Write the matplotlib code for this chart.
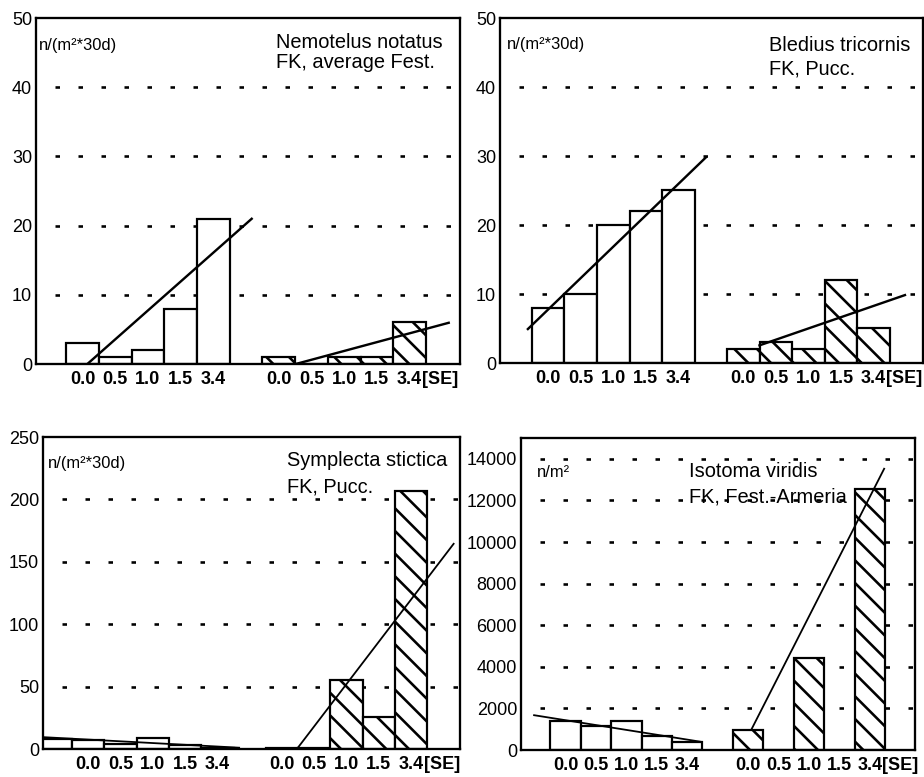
import matplotlib
matplotlib.use("Agg")
import matplotlib.pyplot as plt

DPI = 136
FIG_W, FIG_H = 924, 777


def pt(px):
    """convert pixels to points at the figure dpi"""
    return px * 72.0 / DPI


plt.rcParams['font.family'] = ['Liberation Sans', 'DejaVu Sans']
plt.rcParams['hatch.linewidth'] = pt(2.6)
plt.rcParams['hatch.color'] = 'black'
plt.rcParams['lines.scale_dashes'] = False

# ---------------- data ----------------
categories = ["0.0", "0.5", "1.0", "1.5", "3.4"]
unit_suffix = "[SE]"

# Nemotelus notatus, FK, average Fest.
nem_open = [3, 1, 2, 8, 21]
nem_hatch = [1, 0, 1, 1, 6]
nem_open_fit_x = [1.15, 6.2]
nem_open_fit_y = [0.0, 21.1]
nem_hatch_fit_x = [7.52, 12.23]
nem_hatch_fit_y = [0.0, 6.0]

# Bledius tricornis, FK, Pucc.
ble_open = [8, 10, 20, 22, 25]
ble_hatch = [2, 3, 2, 12, 5]
ble_open_fit_x = [0.35, 5.87]
ble_open_fit_y = [4.8, 29.9]
ble_hatch_fit_x = [7.46, 12.0]
ble_hatch_fit_y = [2.5, 9.9]

# Symplecta stictica, FK, Pucc. (one extra leading open bar)
sym_open = [8, 7, 4, 9, 3, 1]
sym_hatch = [1, 1, 55, 26, 207]
sym_open_fit_x = [-0.4, 5.7]
sym_open_fit_y = [9.5, 1.0]
sym_hatch_fit_x = [7.46, 12.33]
sym_hatch_fit_y = [0.0, 165.0]

# Isotoma viridis, FK, Fest.-Armeria
iso_open = [1380, 1150, 1380, 650, 380]
iso_hatch = [950, 0, 4400, 0, 12550]
iso_open_fit_x = [-0.06, 5.47]
iso_open_fit_y = [1680, 390]
iso_hatch_fit_x = [7.1, 11.48]
iso_hatch_fit_y = [966, 13560]

yticks_small = [0, 10, 20, 30, 40, 50]
yticks_sym = [0, 50, 100, 150, 200, 250]
yticks_iso = [0, 2000, 4000, 6000, 8000, 10000, 12000, 14000]

# ---------------- styling ----------------
TICK_FS = pt(18)
SPEC_FS = pt(20)
UNIT_FS = pt(16.5)

fig = plt.figure(figsize=((FIG_W + 0.01) / DPI, (FIG_H + 0.01) / DPI), dpi=DPI)
fig.patch.set_facecolor('white')


def add_text(xpx, ypx, s, fs):
    fig.text(xpx / FIG_W, 1 - ypx / FIG_H, s, ha='left', va='top', fontsize=fs, color='black')


def draw_panel(box, xlim, ylim, yticks, open_vals, hatch_vals,
               open_fit, hatch_fit, fit_lw):
    l, t, r, b = box
    ax = fig.add_axes([l / FIG_W, 1 - b / FIG_H, (r - l) / FIG_W, (b - t) / FIG_H])
    n = len(categories)
    open_x = list(range(n + 1 - len(open_vals), n + 1))
    hatch_x = list(range(n + 2, 2 * n + 2))
    label_x = list(range(1, n + 1)) + hatch_x

    for y in yticks[1:]:
        if y < ylim[1]:
            ax.axhline(y, color='black', lw=pt(2.6),
                       linestyle=(pt(4), (pt(4.5), pt(18.5))), zorder=1)

    ax.bar(open_x, open_vals, width=1.0, facecolor='white', edgecolor='black',
           linewidth=pt(2.2), zorder=2)
    ax.bar(hatch_x, hatch_vals, width=1.0, facecolor='white', edgecolor='black',
           hatch='\\\\', linewidth=pt(2.2), zorder=2)

    ax.plot(open_fit[0], open_fit[1], color='black', lw=fit_lw, zorder=3,
            solid_capstyle='butt')
    ax.plot(hatch_fit[0], hatch_fit[1], color='black', lw=fit_lw, zorder=3,
            solid_capstyle='butt')

    ax.set_xlim(*xlim)
    ax.set_ylim(*ylim)
    ax.set_xticks(label_x)
    ax.set_xticklabels(categories * 2, fontsize=TICK_FS, fontweight='bold')
    ax.set_yticks(yticks)
    ax.set_yticklabels([str(v) for v in yticks], fontsize=TICK_FS)
    ax.tick_params(axis='x', length=0, pad=pt(7))
    ax.tick_params(axis='y', length=0, pad=pt(4))
    for s in ax.spines.values():
        s.set_linewidth(pt(2.3))
        s.set_zorder(5)
    half_w = 0.695 * TICK_FS
    ax.annotate(unit_suffix, xy=(hatch_x[-1], 0), xycoords=('data', 'axes fraction'),
                xytext=(half_w, -pt(7)), textcoords='offset points',
                ha='left', va='top', fontsize=TICK_FS, fontweight='bold',
                annotation_clip=False)
    return ax


draw_panel((36, 18, 460, 364), (-0.42, 12.54), (0, 50), yticks_small,
           nem_open, nem_hatch, (nem_open_fit_x, nem_open_fit_y),
           (nem_hatch_fit_x, nem_hatch_fit_y), pt(2.4))
add_text(39, 38, "n/(m²*30d)", UNIT_FS)
add_text(276, 33, "Nemotelus notatus", SPEC_FS)
add_text(276, 53, "FK, average Fest.", SPEC_FS)

draw_panel((500, 18, 923, 363), (-0.48, 12.52), (0, 50), yticks_small,
           ble_open, ble_hatch, (ble_open_fit_x, ble_open_fit_y),
           (ble_hatch_fit_x, ble_hatch_fit_y), pt(2.4))
add_text(507, 37, "n/(m²*30d)", UNIT_FS)
add_text(769, 36, "Bledius tricornis", SPEC_FS)
add_text(769, 59, "FK, Pucc.", SPEC_FS)

draw_panel((43, 437, 460, 749), (-0.40, 12.51), (0, 250), yticks_sym,
           sym_open, sym_hatch, (sym_open_fit_x, sym_open_fit_y),
           (sym_hatch_fit_x, sym_hatch_fit_y), pt(1.8))
add_text(48, 456, "n/(m²*30d)", UNIT_FS)
add_text(287, 451, "Symplecta stictica", SPEC_FS)
add_text(287, 477, "FK, Pucc.", SPEC_FS)

draw_panel((521, 438, 915, 750), (-0.46, 12.48), (0, 15000), yticks_iso,
           iso_open, iso_hatch, (iso_open_fit_x, iso_open_fit_y),
           (iso_hatch_fit_x, iso_hatch_fit_y), pt(1.8))
add_text(537, 465, "n/m²", UNIT_FS)
add_text(689, 462, "Isotoma viridis", SPEC_FS)
add_text(689, 487, "FK, Fest.-Armeria", SPEC_FS)

fig.savefig("out.png", dpi=DPI, facecolor='white')
